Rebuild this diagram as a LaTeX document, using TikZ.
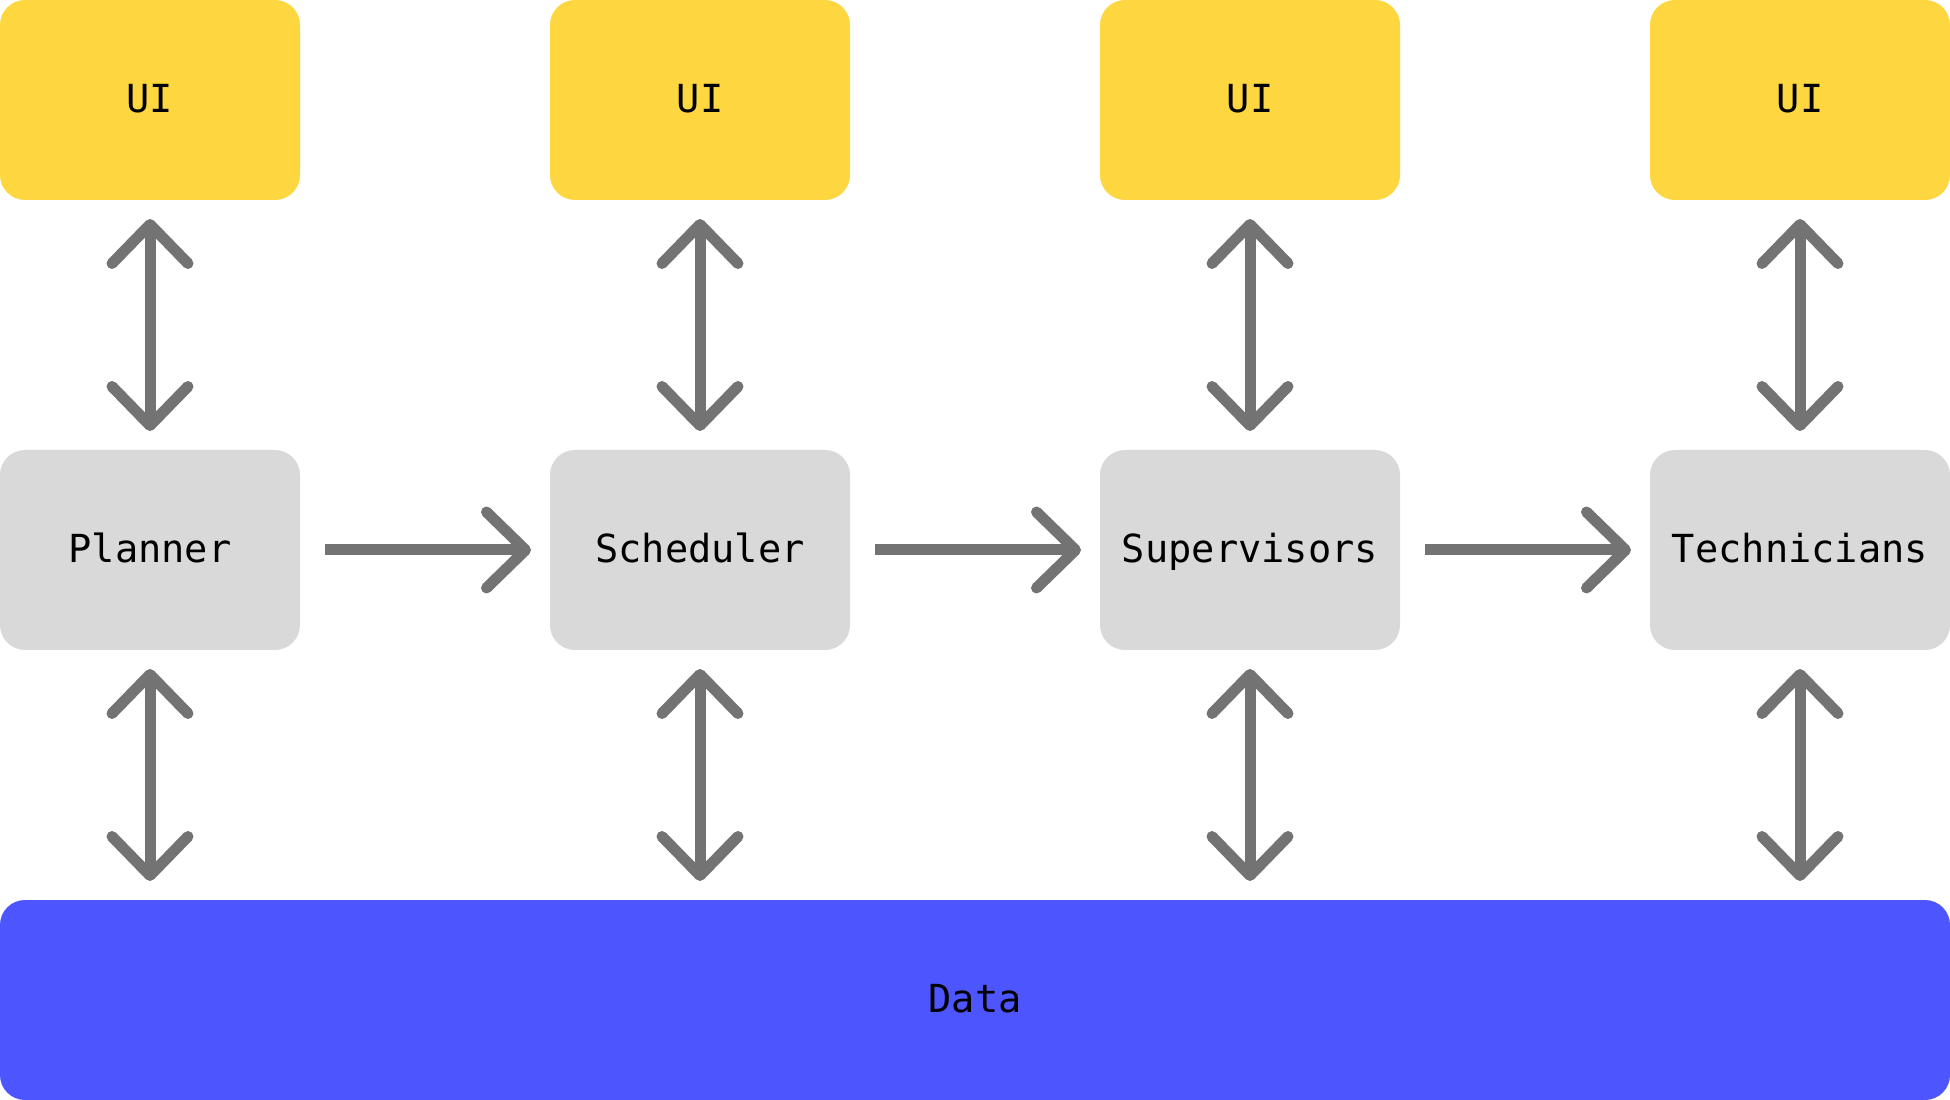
\documentclass[tikz,border=0pt]{standalone}
\usepackage{fontspec}
\setmonofont{DejaVu Sans Mono}
\usetikzlibrary{positioning, arrows.meta}
\definecolor{uiyellow}{RGB}{253,214,64}
\definecolor{rolegray}{RGB}{217,217,217}
\definecolor{datablue}{RGB}{77,85,255}
\definecolor{arrowgray}{RGB}{115,115,115}

\begin{document}
\begin{tikzpicture}[
    box/.style={minimum width=3cm, minimum height=2cm, inner sep=0pt, outer sep=0pt,
                rounded corners=0.25cm, text height=0.73em, text depth=0pt,
                font=\ttfamily\fontsize{11}{13}\selectfont},
    uibox/.style={box, fill=uiyellow},
    rolebox/.style={box, fill=rolegray},
    databox/.style={box, fill=datablue, minimum width=19.5cm},
    tip/.tip={Straight Barb[length=3.9mm, width=7.6mm, round]},
    link/.style={draw=arrowgray, line width=1.1mm, tip-tip, shorten <=1.9mm, shorten >=1.9mm},
    flow/.style={draw=arrowgray, line width=1.1mm, -tip, shorten <=2.5mm, shorten >=1.9mm}]
    \useasboundingbox (0,0) rectangle (19.5,-11);
    % interfaces arriba
    \node[uibox] (ui1) at (1.5,-1) {UI};
    \node[uibox, right=2.5cm of ui1] (ui2) {UI};
    \node[uibox, right=2.5cm of ui2] (ui3) {UI};
    \node[uibox, right=2.5cm of ui3] (ui4) {UI};

    % roles
    \node[rolebox, below=2.5cm of ui1] (plan) {Planner};
    \node[rolebox, below=2.5cm of ui2] (sched) {Scheduler};
    \node[rolebox, below=2.5cm of ui3] (super) {Supervisors};
    \node[rolebox, below=2.5cm of ui4] (tech) {Technicians};

    \node[databox] (data) at (9.75,-10) {Data};

    \draw[flow] (plan) -- (sched);
    \draw[flow] (sched) -- (super);
    \draw[flow] (super) -- (tech);

    \foreach \ui/\role in {ui1/plan, ui2/sched, ui3/super, ui4/tech} {
        \draw[link] (\ui.south) -- (\role.north);
        \draw[link] (\role.south) -- (\role.south |- data.north);
    }
\end{tikzpicture}
\end{document}
